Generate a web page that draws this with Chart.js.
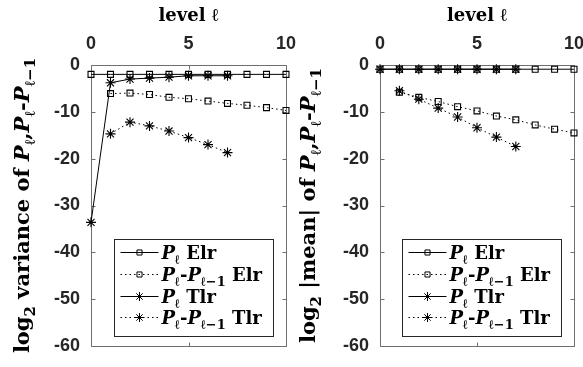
<!DOCTYPE html>
<html lang="en">
<head>
<meta charset="UTF-8">
<title>Level convergence</title>
<script src="https://cdn.jsdelivr.net/npm/chart.js@4.4.0/dist/chart.umd.min.js"></script>
<style>
  body { margin: 0; background: #fff; }
  .wrap { position: relative; width: 583px; height: 367px; overflow: hidden; }
  #varChart { position: absolute; left: 0; top: 0; }
  #meanChart { position: absolute; left: 296px; top: 0; }
</style>
</head>
<body>
<div class="wrap">
  <canvas id="varChart" width="300" height="367"></canvas>
  <canvas id="meanChart" width="287" height="367"></canvas>
</div>
<script>
// levels and log2 values per estimator
const levels = [0, 1, 2, 3, 4, 5, 6, 7, 8, 9, 10];

const varElr     = [-2.0, -2.0, -2.0, -2.0, -2.0, -2.0, -2.0, -2.0, -2.0, -2.0, -2.0];
const varElrDiff = [null, -6.1, -6.0, -6.3, -6.9, -7.2, -7.7, -8.2, -8.6, -9.1, -9.7];
const varTlr     = [-33.6, -3.8, -3.0, -2.8, -2.6, -2.3, -2.3, -2.3];
const varTlrDiff = [null, -14.7, -12.2, -13.0, -14.1, -15.5, -17.0, -18.7];

const meanElr     = [-0.9, -0.9, -0.9, -0.9, -0.9, -0.9, -0.9, -0.9, -0.9, -0.9, -0.9];
const meanElrDiff = [null, -5.8, -6.9, -7.8, -8.9, -9.8, -10.9, -11.7, -12.8, -13.7, -14.5];
const meanTlr     = [-0.9, -0.9, -0.9, -0.9, -0.9, -0.9, -0.9, -0.9];
const meanTlrDiff = [null, -5.5, -7.3, -9.2, -11.1, -13.4, -15.4, -17.4];

const xTicks = [0, 5, 10];
const yTicks = [-60, -50, -40, -30, -20, -10, 0];

const SERIF = '"DejaVu Serif", serif';
const tickFont = { family: '"Liberation Sans", Arial, sans-serif', weight: 'bold', size: 18 };

function series(label, values, solid, marker) {
  const pts = [];
  values.forEach((v, i) => { if (v !== null) pts.push({ x: levels[i], y: v }); });
  return {
    label: label,
    data: pts,
    borderColor: '#000',
    borderWidth: 1,
    borderDash: solid ? [] : [1.5, 3],
    pointStyle: marker,
    pointRadius: marker === 'rect' ? 4.2 : 5,
    pointBorderWidth: 1.1,
    pointBorderColor: '#000',
    pointBackgroundColor: 'rgba(0,0,0,0)',
    tension: 0,
    fill: false,
    clip: false
  };
}

// rich text: list of runs {t, f, dy}
function runsWidth(ctx, runs) {
  let w = 0;
  runs.forEach(r => { ctx.font = r.f; w += ctx.measureText(r.t).width; });
  return w;
}
function drawRuns(ctx, runs, x, y) {
  let cx = x;
  runs.forEach(r => {
    ctx.font = r.f;
    ctx.fillText(r.t, cx, y + (r.dy || 0));
    cx += ctx.measureText(r.t).width;
  });
}

const big = 'bold 18px ' + SERIF;
const bigIt = 'italic bold 18px ' + SERIF;
const sub = 'bold 13px ' + SERIF;
const P = [{ t: 'P', f: bigIt }, { t: 'ℓ', f: sub, dy: 5 }];
const dP = P.concat([{ t: '-', f: big }, { t: 'P', f: bigIt }, { t: 'ℓ−1', f: sub, dy: 5 }]);

const legendRows = [
  { runs: P.concat([{ t: ' Elr', f: big }]), dash: false, marker: 'rect' },
  { runs: dP.concat([{ t: ' Elr', f: big }]), dash: true, marker: 'rect' },
  { runs: P.concat([{ t: ' Tlr', f: big }]), dash: false, marker: 'star' },
  { runs: dP.concat([{ t: ' Tlr', f: big }]), dash: true, marker: 'star' }
];

function yTitleRuns(word) {
  const t = 'bold 21px ' + SERIF;
  const ti = 'italic bold 21px ' + SERIF;
  const s = 'bold 15px ' + SERIF;
  return [
    { t: 'log', f: t }, { t: '2', f: s, dy: 6 }, { t: ' ' + word + ' of ', f: t },
    { t: 'P', f: ti }, { t: 'ℓ', f: s, dy: 6 }, { t: ',', f: t },
    { t: 'P', f: ti }, { t: 'ℓ', f: s, dy: 6 }, { t: '-', f: t },
    { t: 'P', f: ti }, { t: 'ℓ−1', f: s, dy: 6 }
  ];
}

// axes box with inward ticks, drawn under the data
const boxPlugin = {
  id: 'box',
  beforeDatasetsDraw(chart) {
    const { ctx, chartArea: a, scales } = chart;
    const L = Math.round(a.left) + 0.5, R = Math.round(a.right) + 0.5;
    const T = Math.round(a.top) + 0.5, B = Math.round(a.bottom) + 0.5;
    ctx.save();
    ctx.strokeStyle = '#6f6f6f';
    ctx.lineWidth = 1;
    ctx.beginPath();
    ctx.rect(L, T, R - L, B - T);
    xTicks.forEach(v => {
      const px = Math.round(scales.x.getPixelForValue(v)) + 0.5;
      ctx.moveTo(px, T); ctx.lineTo(px, T + 4);
      ctx.moveTo(px, B); ctx.lineTo(px, B - 4);
    });
    yTicks.forEach(v => {
      const py = Math.round(scales.y.getPixelForValue(v)) + 0.5;
      ctx.moveTo(L, py); ctx.lineTo(L + 4, py);
      ctx.moveTo(R, py); ctx.lineTo(R - 4, py);
    });
    ctx.stroke();
    ctx.restore();
  }
};

// rotated y title and the boxed legend
const labelPlugin = {
  id: 'labels',
  afterDraw(chart, args, opts) {
    const { ctx, chartArea: a } = chart;
    ctx.save();
    ctx.fillStyle = '#000';
    ctx.textBaseline = 'alphabetic';
    const tr = yTitleRuns(opts.word);
    ctx.translate(opts.titleX, (a.top + a.bottom) / 2);
    ctx.rotate(-Math.PI / 2);
    drawRuns(ctx, tr, -runsWidth(ctx, tr) / 2, 0);
    ctx.restore();

    const w = 159, h = 97;
    const lx = Math.round(a.right - 13 - w) + 0.5;
    const ly = Math.round(a.bottom - 10 - h) + 0.5;
    ctx.save();
    ctx.fillStyle = '#fff';
    ctx.fillRect(lx, ly, w, h);
    ctx.strokeStyle = '#262626';
    ctx.lineWidth = 1;
    ctx.strokeRect(lx, ly, w, h);
    const rowY = [13, 35, 57, 78];
    legendRows.forEach((row, i) => {
      const y = ly + rowY[i];
      ctx.strokeStyle = '#000';
      ctx.setLineDash(row.dash ? [1.5, 3] : []);
      ctx.beginPath();
      ctx.moveTo(lx + 6, y); ctx.lineTo(lx + 44, y);
      ctx.stroke();
      ctx.setLineDash([]);
      ctx.fillStyle = 'rgba(0,0,0,0)';
      Chart.helpers.drawPoint(ctx, {
        pointStyle: row.marker, radius: row.marker === 'rect' ? 3.6 : 4.5,
        borderWidth: 1.1, rotation: 0
      }, lx + 25, y);
      ctx.fillStyle = '#000';
      drawRuns(ctx, row.runs, lx + 47, y + 6);
    });
    ctx.restore();
  }
};

function makeChart(id, datasets, areaLeft, padRight, word, titleX) {
  return new Chart(document.getElementById(id), {
    type: 'line',
    data: { datasets: datasets },
    plugins: [boxPlugin, labelPlugin],
    options: {
      responsive: false,
      animation: false,
      layout: { autoPadding: false, padding: { left: 0, right: padRight, top: 0, bottom: 21 } },
      plugins: {
        legend: { display: false },
        tooltip: { enabled: false },
        labels: { word: word, titleX: titleX }
      },
      scales: {
        x: {
          type: 'linear', position: 'top', min: 0, max: 10,
          afterBuildTicks: s => { s.ticks = xTicks.map(v => ({ value: v })); },
          afterFit: s => { s.height = 65; s.paddingLeft = 0; s.paddingRight = 0; },
          grid: { display: false, drawTicks: false },
          border: { display: false },
          ticks: { padding: 10, color: '#262626', font: tickFont, maxRotation: 0, autoSkip: false },
          title: {
            display: true, text: 'level ℓ', color: '#000',
            font: { family: SERIF, weight: 'bold', size: 18 },
            padding: { top: 6, bottom: 0 }
          }
        },
        y: {
          type: 'linear', min: -60, max: 0,
          afterBuildTicks: s => { s.ticks = yTicks.map(v => ({ value: v })); },
          afterFit: s => { s.width = areaLeft; s.paddingTop = 0; s.paddingBottom = 0; },
          grid: { display: false, drawTicks: false },
          border: { display: false },
          ticks: { padding: 11, color: '#262626', font: tickFont }
        }
      }
    }
  });
}

makeChart('varChart', [
  series('P Elr', varElr, true, 'rect'),
  series('dP Elr', varElrDiff, false, 'rect'),
  series('P Tlr', varTlr, true, 'star'),
  series('dP Tlr', varTlrDiff, false, 'star')
], 91, 14, 'variance', 29);

makeChart('meanChart', [
  series('P Elr', meanElr, true, 'rect'),
  series('dP Elr', meanElrDiff, false, 'rect'),
  series('P Tlr', meanTlr, true, 'star'),
  series('dP Tlr', meanTlrDiff, false, 'star')
], 84, 9, '|mean|', 19);
</script>
</body>
</html>
